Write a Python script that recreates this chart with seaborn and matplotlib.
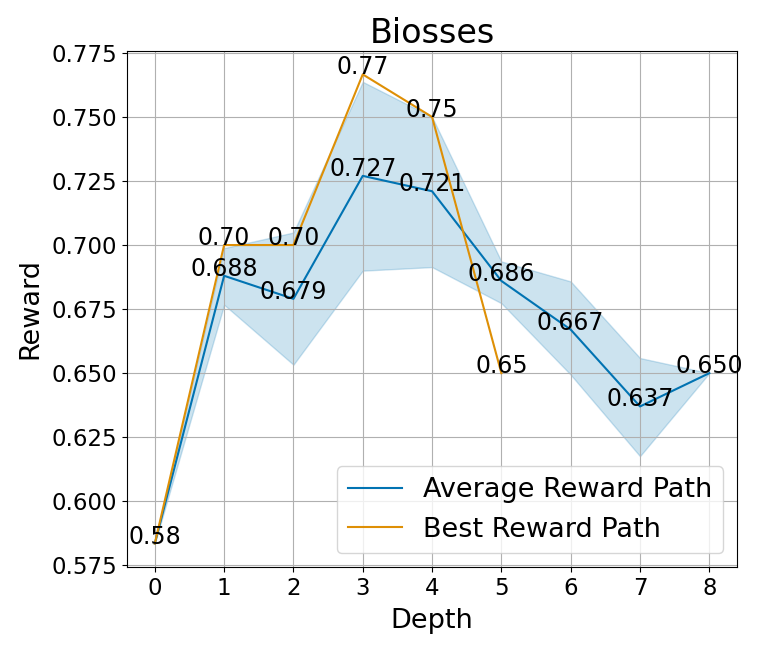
import numpy as np
import pandas as pd
import matplotlib
matplotlib.use("Agg")
import matplotlib.pyplot as plt
import seaborn as sns

# Values
depth = [0, 1, 2, 3, 4, 5, 6, 7, 8]
avg_reward = [0.5835, 0.688, 0.679, 0.727, 0.721, 0.686, 0.667, 0.637, 0.650]
band_low = [0.5835, 0.6767, 0.6533, 0.690, 0.6914, 0.6773, 0.6494, 0.6176, 0.650]
band_high = [0.5835, 0.6988, 0.7049, 0.7637, 0.750, 0.6936, 0.6858, 0.6559, 0.650]

best_depth = [0, 1, 2, 3, 4, 5]
best_reward = [0.5835, 0.700, 0.700, 0.7666, 0.750, 0.650]

avg_df = pd.DataFrame({"Depth": depth, "Reward": avg_reward})
best_df = pd.DataFrame({"Depth": best_depth, "Reward": best_reward})

blue = "#0173B2"
orange = "#DE8F05"

fig, ax = plt.subplots(figsize=(7.61, 6.53), dpi=100)
fig.subplots_adjust(left=0.167, right=0.9685, top=0.922, bottom=0.1317)

sns.lineplot(data=avg_df, x="Depth", y="Reward", color=blue, linewidth=1.5,
             label="Average Reward Path", ax=ax)
ax.fill_between(depth, band_low, band_high, color=blue, alpha=0.2)
sns.lineplot(data=best_df, x="Depth", y="Reward", color=orange, linewidth=1.5,
             label="Best Reward Path", ax=ax)

# value labels
for x, y in zip(depth[1:], avg_reward[1:]):
    ax.text(x, y, f"{y:.3f}", ha="center", va="baseline", fontsize=17)
for x, y in zip(best_depth, best_reward):
    ax.text(x, y, f"{y:.2f}", ha="center", va="baseline", fontsize=17)

ax.set_title("Biosses", fontsize=24)
ax.set_xlabel("Depth", fontsize=19.5, labelpad=6)
ax.set_ylabel("Reward", fontsize=19.5, labelpad=6)
ax.set_xticks(depth)
ax.tick_params(labelsize=16.5)
ax.grid(True)
ax.legend(loc="lower right", fontsize=19.5)

plt.savefig("out.png", dpi=100)
